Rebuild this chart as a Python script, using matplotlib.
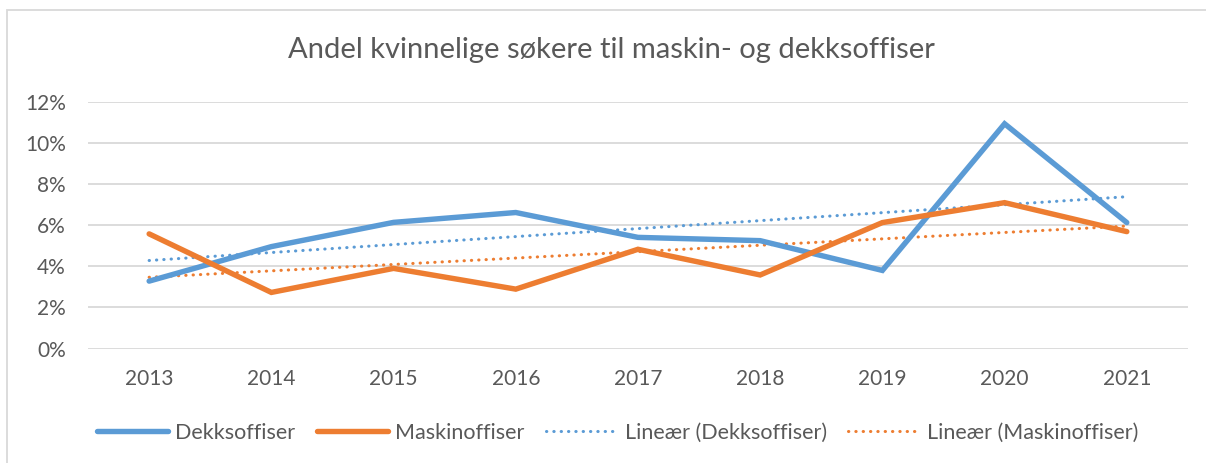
import numpy as np
import matplotlib
matplotlib.use("Agg")
import matplotlib.pyplot as plt
from matplotlib.patches import Rectangle

# ---------------------------------------------------------
# Data (lest av fra figuren)
# ---------------------------------------------------------
aar = ["2013", "2014", "2015", "2016", "2017", "2018", "2019", "2020", "2021"]
dekksoffiser = [3.28, 4.96, 6.14, 6.62, 5.41, 5.25, 3.80, 10.94, 6.13]
maskinoffiser = [5.58, 2.73, 3.90, 2.89, 4.83, 3.58, 6.13, 7.10, 5.69]
y_ticks = [0, 2, 4, 6, 8, 10, 12]

BLAA = "#5B9BD5"
ORANSJE = "#ED7D31"
GRAA_TEKST = "#595959"
GRID = "#D9D9D9"

plt.rcParams["font.family"] = ["Lato", "DejaVu Sans"]

x = np.arange(len(aar))

# lineare trendlinjer (som Excel)
k_d, m_d = np.polyfit(x, dekksoffiser, 1)
k_m, m_m = np.polyfit(x, maskinoffiser, 1)

fig = plt.figure(figsize=(12.06, 4.63), dpi=100)
ax = fig.add_axes([0.073, 0.2473, 0.912, 0.5324])

ax.plot(x, dekksoffiser, color=BLAA, lw=3.9, solid_capstyle="round",
        solid_joinstyle="miter", label="Dekksoffiser", zorder=3)
ax.plot(x, maskinoffiser, color=ORANSJE, lw=3.9, solid_capstyle="round",
        solid_joinstyle="miter", label="Maskinoffiser", zorder=3)
prikk = (0, (0.1, 2.3))
ax.plot(x, k_d * x + m_d, color=BLAA, lw=2.2, linestyle=prikk,
        dash_capstyle="round", label="Lineær (Dekksoffiser)", zorder=2)
ax.plot(x, k_m * x + m_m, color=ORANSJE, lw=2.2, linestyle=prikk,
        dash_capstyle="round", label="Lineær (Maskinoffiser)", zorder=2)

ax.set_xlim(-0.5, len(aar) - 0.5)
ax.set_ylim(0, 12)
ax.set_xticks(x)
ax.set_xticklabels(aar)
ax.set_yticks(y_ticks)
ax.set_yticklabels([f"{v}%" for v in y_ticks])
ax.tick_params(axis="both", length=0, labelsize=15, colors=GRAA_TEKST)
ax.tick_params(axis="y", pad=16)
ax.tick_params(axis="x", pad=15)
ax.grid(axis="y", color=GRID, lw=1.3)
ax.set_axisbelow(True)
for s in ax.spines.values():
    s.set_visible(False)

fig.text(0.507, 0.892, "Andel kvinnelige søkere til maskin- og dekksoffiser",
         ha="center", va="center", fontsize=21, color=GRAA_TEKST)

leg = fig.legend(loc="center", bbox_to_anchor=(0.512, 0.065), ncol=4,
                 frameon=False, fontsize=15.5, handlelength=3.3,
                 handletextpad=0.35, columnspacing=1.0)
for t in leg.get_texts():
    t.set_color(GRAA_TEKST)

# ramme rundt diagrammet
fig.add_artist(Rectangle((7 / 1206, -0.1), 1.2, 1.1 - 10 / 463,
                         transform=fig.transFigure, fill=False,
                         edgecolor=GRID, lw=1.3))

fig.savefig("out.png", dpi=100, facecolor="white")
